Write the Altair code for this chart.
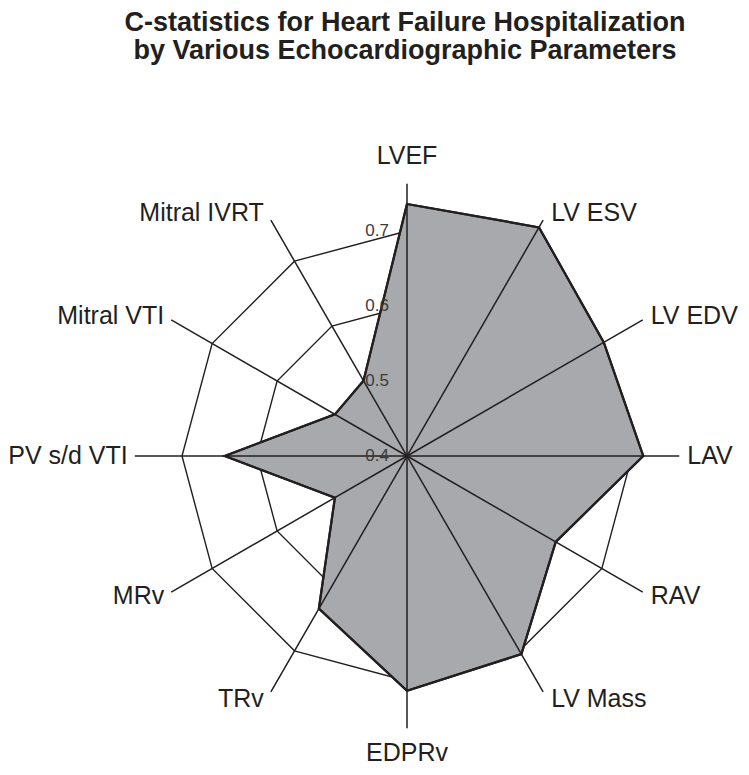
import altair as alt
import numpy as np
import pandas as pd

# ---------------- data ----------------
categories = ["LVEF", "LV ESV", "LV EDV", "LAV", "RAV", "LV Mass",
              "EDPRv", "TRv", "MRv", "PV s/d VTI", "Mitral VTI", "Mitral IVRT"]
values = [0.736, 0.752, 0.703, 0.715, 0.629, 0.705,
          0.713, 0.635, 0.511, 0.643, 0.511, 0.516]
ring_levels = [0.5, 0.6, 0.7]
tick_values = [0.4, 0.5, 0.6, 0.7]
tick_labels = ["0.4", "0.5", "0.6", "0.7"]
title_lines = ["C-statistics for Heart Failure Hospitalization",
               "by Various Echocardiographic Parameters"]
center_value = 0.4
axis_max = 0.763

# ---------------- geometry ----------------
n = len(categories)
ang = np.deg2rad(90 - 360.0 / n * np.arange(n))
W, H = 733, 757
PX = 750.0          # pixels per unit of value
cx, cy = 399.0, 448.0
xs = alt.Scale(domain=[-cx / PX, (W - cx) / PX], nice=False, zero=False)
ys = alt.Scale(domain=[-(H - cy) / PX, cy / PX], nice=False, zero=False)
INK = "#231f20"
FONT = "Liberation Sans"


def X(f="x"):
    return alt.X(f"{f}:Q", scale=xs, axis=None)


def Y(f="y"):
    return alt.Y(f"{f}:Q", scale=ys, axis=None)


# rings
rows = []
for lv in ring_levels:
    r = lv - center_value
    for k in range(n + 1):
        a = ang[k % n]
        rows.append({"level": lv, "order": k, "x": r * np.cos(a), "y": r * np.sin(a)})
rings_df = pd.DataFrame(rows)

# data polygon
poly_df = pd.DataFrame({
    "cat": categories,
    "order": np.arange(n),
    "x": (np.array(values) - center_value) * np.cos(ang),
    "y": (np.array(values) - center_value) * np.sin(ang),
})

# spokes
R = axis_max - center_value
spokes_df = pd.DataFrame({
    "cat": categories,
    "x": 0.0, "y": 0.0,
    "x2": R * np.cos(ang), "y2": R * np.sin(ang),
})

# category labels
lab = []
for c, a in zip(categories, ang):
    ca, sa = np.cos(a), np.sin(a)
    ex, ey = R * ca, R * sa
    if abs(ca) < 0.1:
        side = "center"
        dx, dy = 0.0, (28.0 if sa > 0 else -25.0)
    elif ca > 0:
        side = "left"
        dx, dy = 8.0, 8.0 * sa
    else:
        side = "right"
        dx, dy = -7.0, 8.0 * sa
    lab.append({"cat": c, "side": side, "x": ex + dx / PX, "y": ey + dy / PX})
lab_df = pd.DataFrame(lab)

# tick labels (along the top spoke)
tick_df = pd.DataFrame({
    "t": tick_labels,
    "x": -18.0 / PX,
    "y": np.array(tick_values) - center_value,
})

# ---------------- layers ----------------
rings = alt.Chart(rings_df).mark_line(color=INK, strokeWidth=1.4).encode(
    x=X(), y=Y(), order="order:Q", detail="level:N")

poly = alt.Chart(poly_df).mark_line(
    interpolate="linear-closed", fill="#a7a9ac", stroke=INK, strokeWidth=2.2,
    strokeJoin="miter").encode(x=X(), y=Y(), order="order:Q")

spokes = alt.Chart(spokes_df).mark_rule(color=INK, strokeWidth=1.5).encode(
    x=X(), y=Y(), x2="x2:Q", y2="y2:Q")

poly_outline = alt.Chart(poly_df).mark_line(
    interpolate="linear-closed", stroke=INK, strokeWidth=2.2,
    strokeJoin="miter").encode(x=X(), y=Y(), order="order:Q")

labels = []
for side in ["left", "right", "center"]:
    labels.append(
        alt.Chart(lab_df[lab_df.side == side]).mark_text(
            align=side, baseline="middle", font=FONT, fontSize=25, color=INK
        ).encode(x=X(), y=Y(), text="cat:N")
    )

ticks = alt.Chart(tick_df).mark_text(
    align="right", baseline="middle", font=FONT, fontSize=17, color="#3b3b3b"
).encode(x=X(), y=Y(), text="t:N")

title = alt.Chart(pd.DataFrame({"t": ["\n".join(title_lines)]})).mark_text(
    align="center", baseline="alphabetic", font=FONT, fontSize=27,
    fontWeight="bold", color=INK, lineBreak="\n", lineHeight=27.5
).encode(x=alt.value(397), y=alt.value(23), text="t:N")

chart = alt.layer(rings, poly, spokes, poly_outline, ticks, *labels, title).properties(
    width=W, height=H, padding=0,
    autosize=alt.AutoSizeParams(type="none"),
).configure_view(stroke=None)

chart.save("out.html", embed_options={"renderer": "svg", "actions": False})
